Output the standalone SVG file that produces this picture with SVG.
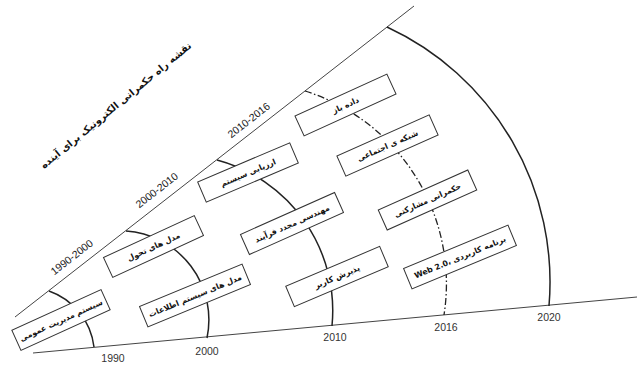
<svg xmlns="http://www.w3.org/2000/svg" width="637" height="365" viewBox="0 0 637 365">
<style>
.ax{fill:none;stroke:#444;stroke-width:1}
.arc{fill:none;stroke:#222;stroke-width:1.5}
.dd{fill:none;stroke:#222;stroke-width:1.3;stroke-dasharray:7 2.5 1.5 2.5}
.box{fill:#fff;stroke:#333;stroke-width:1}
.bt{font-family:"DejaVu Sans",sans-serif;font-size:7.8px;font-weight:bold;fill:#111;text-anchor:middle;direction:rtl}
.per{font-family:"Liberation Sans",Arial,sans-serif;font-size:10.5px;fill:#222;text-anchor:middle}
.yr{font-family:"Liberation Sans",Arial,sans-serif;font-size:10.5px;fill:#333;text-anchor:middle}
.ttl{font-family:"DejaVu Sans",sans-serif;font-size:9.8px;font-weight:bold;fill:#111;text-anchor:middle;direction:rtl}
</style>
<rect width="637" height="365" fill="#fff"/>
<g id="connectors">
<line class="ax" x1="15" y1="317" x2="414" y2="6"/>
<line class="ax" x1="33" y1="353" x2="637" y2="297"/>
<path class="arc" d="M49,291 A68,68 0 0 1 94,347"/>
<path class="arc" d="M126,231 A89,89 0 0 1 207,338"/>
<path class="arc" d="M217,160 A156,156 0 0 1 332,326"/>
<path class="dd" d="M305,91 A202,202 0 0 1 444,315"/>
<path class="arc" d="M387,27 A281,281 0 0 1 549,306"/>
</g>
<g id="title"><text class="ttl" transform="translate(118,108) rotate(-39.5)">نقشه راه حکمرانی الکترونیک برای آینده</text></g>
<g id="periods">
<text class="per" transform="translate(74,260) rotate(-38)">1990-2000</text>
<text class="per" transform="translate(159,193) rotate(-38)">2000-2010</text>
<text class="per" transform="translate(251,123) rotate(-38)">2010-2016</text>
</g>
<g id="years">
<text class="yr" x="113" y="362">1990</text>
<text class="yr" x="207" y="355">2000</text>
<text class="yr" x="335" y="341">2010</text>
<text class="yr" x="446" y="331">2016</text>
<text class="yr" x="549" y="321">2020</text>
</g>
<g id="n1" transform="translate(61,320) rotate(-24.5)"><rect class="box" x="-49" y="-11" width="98" height="22"/><text class="bt" y="3">سیستم مدیریت عمومی</text></g>
<g id="n2" transform="translate(153.5,246.5) rotate(-24.8)"><rect class="box" x="-50" y="-11" width="100" height="22"/><text class="bt" y="3">مدل های تحول</text></g>
<g id="n3" transform="translate(195,295.5) rotate(-22.5)"><rect class="box" x="-55.5" y="-11" width="111" height="22"/><text class="bt" y="3">مدل های سیستم اطلاعات</text></g>
<g id="n4" transform="translate(248,172.5) rotate(-23)"><rect class="box" x="-50" y="-11" width="100" height="22"/><text class="bt" y="3">ارزیابی سیستم</text></g>
<g id="n5" transform="translate(292,223.5) rotate(-24)"><rect class="box" x="-51.5" y="-11" width="103" height="22"/><text class="bt" y="3">مهندسی مجدد فرآیند</text></g>
<g id="n6" transform="translate(337,276.5) rotate(-23)"><rect class="box" x="-51" y="-11" width="102" height="22"/><text class="bt" y="3">پذیرش کاربر</text></g>
<g id="n7" transform="translate(345.5,105) rotate(-24.5)"><rect class="box" x="-50.5" y="-11" width="101" height="22"/><text class="bt" y="3">داده باز</text></g>
<g id="n8" transform="translate(387.5,145.5) rotate(-24)"><rect class="box" x="-50.5" y="-11" width="101" height="22"/><text class="bt" y="3">شبکه ی اجتماعی</text></g>
<g id="n9" transform="translate(427.5,200) rotate(-24)"><rect class="box" x="-49" y="-11" width="98" height="22"/><text class="bt" y="3">حکمرانی مشارکتی</text></g>
<g id="n10" transform="translate(460,257) rotate(-22.5)"><rect class="box" x="-56.5" y="-11" width="113" height="22"/><text class="bt" y="3">برنامه کاربردی ،Web 2.0</text></g>
</svg>
